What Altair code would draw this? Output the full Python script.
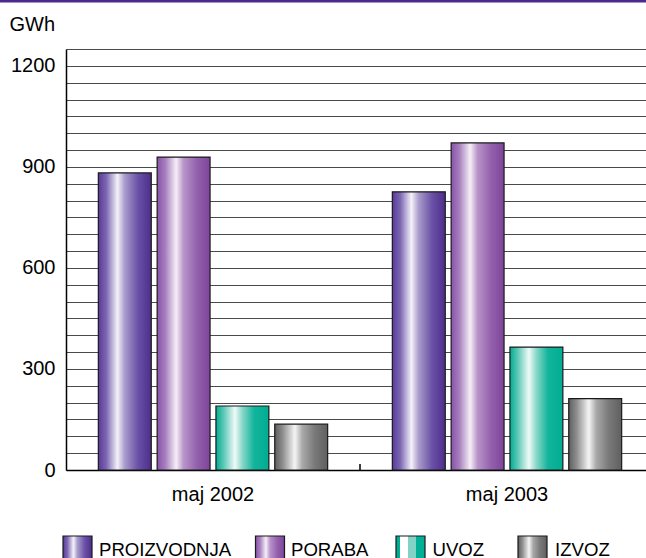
import altair as alt
import pandas as pd

categories = ["maj 2002", "maj 2003"]
series = ["PROIZVODNJA", "PORABA", "UVOZ", "IZVOZ"]
values_2002 = [882, 929, 190, 136]
values_2003 = [826, 971, 365, 212]
y_ticks = list(range(0, 1251, 50))

rows = []
for s, v in zip(series, values_2002):
    rows.append({"cat": categories[0], "series": s, "value": v})
for s, v in zip(series, values_2003):
    rows.append({"cat": categories[1], "series": s, "value": v})
df = pd.DataFrame(rows)

FONT = "Liberation Sans, Arial, Helvetica, sans-serif"


def grad(stops):
    return {
        "gradient": "linear",
        "x1": 0, "x2": 1, "y1": 0, "y2": 0,
        "stops": [{"offset": o, "color": c} for o, c in stops],
    }


bar_grads = {
    "PROIZVODNJA": grad([(0, "#58399a"), (0.15, "#7c66b2"), (0.36, "#f4f1f9"),
                         (0.5, "#a89bcb"), (0.75, "#6a51a6"), (1, "#4c2e8c")]),
    "PORABA": grad([(0, "#8a52a8"), (0.15, "#a57dbd"), (0.36, "#f6eff8"),
                    (0.5, "#b894c8"), (0.75, "#9461ad"), (1, "#7e4499")]),
    "UVOZ": grad([(0, "#00ac92"), (0.15, "#5fc9b7"), (0.36, "#f0faf8"),
                  (0.5, "#88d7c9"), (0.72, "#12b49b"), (1, "#00ad93")]),
    "IZVOZ": grad([(0, "#5e5e5e"), (0.15, "#8e8e8e"), (0.38, "#f5f5f5"),
                   (0.52, "#a9a9a9"), (0.75, "#7a7a7a"), (1, "#5f5f5f")]),
}
legend_grads = dict(bar_grads)
legend_grads["UVOZ"] = grad([(0, "#00ac92"), (0.14, "#00ac92"), (0.141, "#ffffff"),
                             (0.42, "#ffffff"), (0.421, "#80d3c5"), (0.68, "#80d3c5"),
                             (0.681, "#00b096"), (1, "#00b096")])

x_enc = alt.X(
    "cat:N",
    sort=categories,
    scale=alt.Scale(domain=categories, range=[0, 588], paddingInner=0.22, paddingOuter=0.11),
    axis=alt.Axis(
        title=None, ticks=False, labelFontSize=20, labelFont=FONT, labelColor="#000",
        labelPadding=14, domainColor="#000", domainWidth=1.5, grid=False,
        labelAngle=0,
    ),
)
xoff_enc = alt.XOffset(
    "series:N", sort=series,
    scale=alt.Scale(domain=series, paddingInner=0.1, paddingOuter=0),
)
y_enc = alt.Y(
    "value:Q",
    scale=alt.Scale(domain=[0, 1250], nice=False),
    axis=alt.Axis(
        values=y_ticks, title="GWh", titleAngle=0, titleAlign="left",
        titleBaseline="alphabetic", titleX=-57, titleY=-19, titleFontSize=20,
        titleFont=FONT, titleFontWeight="normal", titleColor="#000",
        format="d",
        labelExpr="datum.value % 300 == 0 ? datum.label : ''",
        labelFontSize=20, labelFont=FONT, labelColor="#000", labelPadding=11,
        ticks=False, domainColor="#000", domainWidth=1.5,
        grid=True, gridColor="#4a4a4a", gridWidth=1.2,
    ),
)

layers = []
for s in series:
    layers.append(
        alt.Chart(df)
        .transform_filter(alt.datum.series == s)
        .mark_bar(fill=bar_grads[s], stroke="#1a1a1a", strokeWidth=1.2)
        .encode(x=x_enc, xOffset=xoff_enc, y=y_enc)
    )

# category separator tick on the x axis
layers.append(
    alt.Chart(pd.DataFrame({"a": [0]}))
    .mark_rule(color="#000", strokeWidth=1.5)
    .encode(x=alt.value(294), y=alt.value(415), y2=alt.value(421))
)

# top purple band
layers.append(
    alt.Chart(pd.DataFrame({"a": [0]}))
    .mark_rule(color="#4b2a8c", strokeWidth=2.6)
    .encode(x=alt.value(-66), x2=alt.value(580), y=alt.value(-47.7))
)

# custom legend
swatch_x = [-3, 189.5, 330, 452]
text_x = [33, 225, 366.5, 489]
for s, sx, tx in zip(series, swatch_x, text_x):
    ldf = pd.DataFrame({"series": [s]})
    layers.append(
        alt.Chart(ldf)
        .mark_rect(fill=legend_grads[s], stroke="#1a1a1a", strokeWidth=1.2)
        .encode(x=alt.value(sx), x2=alt.value(sx + 29), y=alt.value(487), y2=alt.value(516))
    )
    layers.append(
        alt.Chart(ldf)
        .mark_text(align="left", baseline="alphabetic", fontSize=18.6, font=FONT, color="#000")
        .encode(x=alt.value(tx), y=alt.value(506.5), text="series:N")
    )

chart = (
    alt.layer(*layers)
    .properties(
        width=580,
        height=421,
        autosize=alt.AutoSizeParams(type="none"),
        padding={"left": 66, "top": 49, "right": 0, "bottom": 88},
        background="white",
    )
    .configure_view(stroke=None)
)

chart.save("out.html", embed_options={"renderer": "svg", "actions": False})
